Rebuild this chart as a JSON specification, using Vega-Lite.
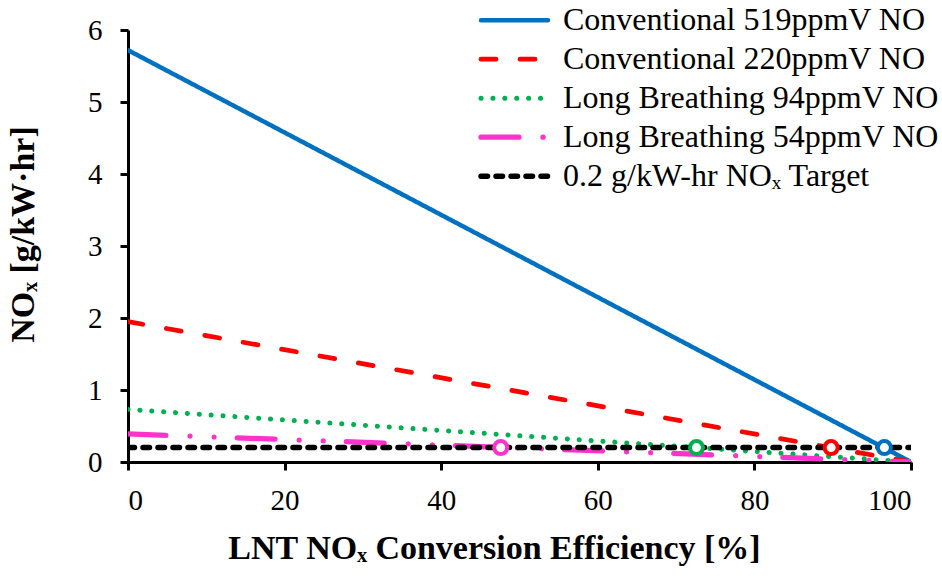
{
  "$schema": "https://vega.github.io/schema/vega-lite/v6.json",
  "width": 783,
  "height": 432,
  "autosize": "none",
  "padding": {"left": 128, "top": 30, "right": 31, "bottom": 116},
  "background": "white",
  "config": {
    "view": {"stroke": null},
    "font": "Times New Roman, Liberation Serif, serif",
    "axis": {
      "domainColor": "black", "domainWidth": 3, "tickColor": "black", "tickWidth": 3, "tickSize": 8,
      "labelFont": "Times New Roman, Liberation Serif, serif", "labelFontSize": 29, "labelColor": "black",
      "titleFont": "Times New Roman, Liberation Serif, serif", "titleFontSize": 34, "titleFontWeight": "bold", "titleColor": "black",
      "grid": false
    },
    "legend": {"labelFont": "Times New Roman, Liberation Serif, serif"}
  },
  "datasets": {
    "lines": [
      {"series": "Conventional 519ppmV NO", "x": 0, "y": 5.72},
      {"series": "Conventional 519ppmV NO", "x": 100, "y": 0},
      {"series": "Conventional 220ppmV NO", "x": 0, "y": 1.95},
      {"series": "Conventional 220ppmV NO", "x": 100, "y": 0},
      {"series": "Long Breathing 94ppmV NO", "x": 0, "y": 0.73},
      {"series": "Long Breathing 94ppmV NO", "x": 100, "y": 0},
      {"series": "Long Breathing 54ppmV NO", "x": 0, "y": 0.39},
      {"series": "Long Breathing 54ppmV NO", "x": 100, "y": 0},
      {"series": "0.2 g/kW-hr NOₓ Target", "x": 0, "y": 0.2},
      {"series": "0.2 g/kW-hr NOₓ Target", "x": 100, "y": 0.2}
    ],
    "points": [
      {"series": "Conventional 519ppmV NO", "x": 96.6, "y": 0.2},
      {"series": "Conventional 220ppmV NO", "x": 89.8, "y": 0.2},
      {"series": "Long Breathing 94ppmV NO", "x": 72.6, "y": 0.2},
      {"series": "Long Breathing 54ppmV NO", "x": 47.6, "y": 0.2}
    ]
  },
  "layer": [
    {
      "data": {"name": "lines"},
      "mark": {"type": "line", "clip": true, "strokeCap": "round"},
      "encoding": {
        "x": {"field": "x", "type": "quantitative", "scale": {"domain": [0, 100], "nice": false},
              "axis": {"values": [0, 20, 40, 60, 80, 100], "format": "d", "title": "LNT NOₓ Conversion Efficiency [%]", "labelPadding": 16, "titlePadding": 16, "titleX": 366}},
        "y": {"field": "y", "type": "quantitative", "scale": {"domain": [0, 6], "nice": false},
              "axis": {"values": [0, 1, 2, 3, 4, 5, 6], "format": "d", "title": "NOₓ [g/kW·hr]", "labelPadding": 18, "titlePadding": 47, "titleY": 204}},
        "color": {"field": "series", "type": "nominal",
          "scale": {"domain": ["Conventional 519ppmV NO", "Conventional 220ppmV NO", "Long Breathing 94ppmV NO", "Long Breathing 54ppmV NO", "0.2 g/kW-hr NOₓ Target"],
                    "range": ["#0070C0", "#FF0000", "#00B050", "#FF33CC", "#000000"]},
          "legend": {"title": null, "orient": "none", "legendX": 350, "legendY": -29, "padding": 0, "rowPadding": 0,
                     "clipHeight": 38.3, "symbolType": "stroke", "symbolSize": 4489, "symbolOffset": 0, "labelOffset": 12,
                     "labelFontSize": 32, "labelColor": "black", "labelLimit": 600,
                     "encode": {"symbols": {"update": {
                       "strokeCap": {"value": "round"},
                       "strokeDash": {"signal": "datum.value == 'Conventional 220ppmV NO' ? [7.5, 16.5] : datum.value == 'Long Breathing 94ppmV NO' ? [0.1, 6.5] : datum.value == 'Long Breathing 54ppmV NO' ? [13, 9.5, 0.1, 9.5, 0.1, 9.5] : datum.value == '0.2 g/kW-hr NOₓ Target' ? [4.5, 6.5] : [1, 0]"}
                     }}}}},
        "strokeDash": {"field": "series", "type": "nominal",
          "scale": {"domain": ["Conventional 519ppmV NO", "Conventional 220ppmV NO", "Long Breathing 94ppmV NO", "Long Breathing 54ppmV NO", "0.2 g/kW-hr NOₓ Target"],
                    "range": [[1, 0], [15, 24], [0.1, 11.8], [38, 24, 0.1, 24, 0.1, 23], [6.5, 8.5]]},
          "legend": {"title": null, "orient": "none", "legendX": 350, "legendY": -29, "padding": 0, "rowPadding": 0,
                     "clipHeight": 38.3, "symbolType": "stroke", "symbolSize": 4489, "symbolOffset": 0, "labelOffset": 12,
                     "labelFontSize": 32, "labelColor": "black", "labelLimit": 600}},
        "strokeWidth": {"field": "series", "type": "nominal",
          "scale": {"domain": ["Conventional 519ppmV NO", "Conventional 220ppmV NO", "Long Breathing 94ppmV NO", "Long Breathing 54ppmV NO", "0.2 g/kW-hr NOₓ Target"],
                    "range": [4.5, 5.5, 5, 5, 3.5]},
          "legend": {"title": null, "orient": "none", "legendX": 350, "legendY": -29, "padding": 0, "rowPadding": 0,
                     "clipHeight": 38.3, "symbolType": "stroke", "symbolSize": 4489, "symbolOffset": 0, "labelOffset": 12,
                     "labelFontSize": 32, "labelColor": "black", "labelLimit": 600}},
        "order": {"field": "x", "type": "quantitative"}
      }
    },
    {
      "data": {"name": "points"},
      "mark": {"type": "point", "shape": "circle", "filled": false, "fill": "white", "fillOpacity": 1, "opacity": 1, "size": 170, "strokeWidth": 4},
      "encoding": {
        "x": {"field": "x", "type": "quantitative"},
        "y": {"field": "y", "type": "quantitative"},
        "stroke": {"field": "series", "type": "nominal",
          "scale": {"domain": ["Conventional 519ppmV NO", "Conventional 220ppmV NO", "Long Breathing 94ppmV NO", "Long Breathing 54ppmV NO"],
                    "range": ["#0070C0", "#FF0000", "#00B050", "#FF33CC"]},
          "legend": null}
      }
    }
  ]
}
